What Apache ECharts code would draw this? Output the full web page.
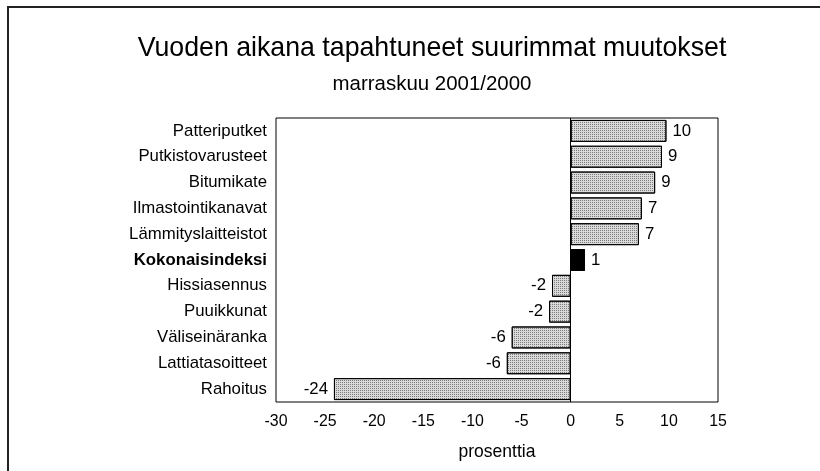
<!DOCTYPE html>
<html>
<head>
<meta charset="utf-8">
<script src="https://cdn.jsdelivr.net/npm/echarts@6/dist/echarts.min.js"></script>
<style>html,body{margin:0;padding:0;background:#fff}#c{width:820px;height:471px}</style>
</head>
<body>
<div id="c"></div>
<script>
const categories = ['Patteriputket','Putkistovarusteet','Bitumikate','Ilmastointikanavat','Lämmityslaitteistot','Kokonaisindeksi','Hissiasennus','Puuikkunat','Väliseinäranka','Lattiatasoitteet','Rahoitus'];
const values = [9.75, 9.3, 8.6, 7.25, 6.95, 1.45, -1.9, -2.2, -6.0, -6.5, -24.1];
const valueLabels = ['10','9','9','7','7','1','-2','-2','-6','-6','-24'];
const highlighted = 'Kokonaisindeksi';
const xMin = -30, xMax = 15, xStep = 5;
const titleText = 'Vuoden aikana tapahtuneet suurimmat muutokset';
const subtitleText = 'marraskuu 2001/2000';
const axisName = 'prosenttia';

// choose a narrow sans if installed, else regular
const cv = document.createElement('canvas').getContext('2d');
function w(txt, fam, size, weight) { cv.font = (weight || 'normal') + ' ' + size + 'px ' + fam; return cv.measureText(txt).width; }
function has(f) { return w('Lämmityslaitteistot 2001', '"' + f + '", monospace', 40) !== w('Lämmityslaitteistot 2001', 'monospace', 40); }
let FONT = "'Liberation Sans', Arial, Helvetica, sans-serif";
for (const f of ['Liberation Sans Narrow', 'Arial Narrow', 'Helvetica Narrow']) {
  if (has(f)) { FONT = '"' + f + '", ' + FONT; break; }
}
function fit(txt, target, weight) { return +(target / w(txt, FONT, 100, weight) * 100).toFixed(2); }

const titleSize = Math.min(fit(titleText, 589), 34);
const subSize = Math.min(fit(subtitleText, 199), 26);
const catSize = Math.min(fit('Lämmityslaitteistot', 138), 22);
const tickSize = Math.min(fit('-15', 23), 21);
const nameSize = Math.min(fit(axisName, 77), 22);

const chart = echarts.init(document.getElementById('c'), null, {renderer: 'canvas'});

const dotDecal = {symbol: 'rect', symbolSize: 1, dashArrayX: [1, 1], dashArrayY: [1, 1], color: '#7a7a7a', rotation: 0};

const seriesData = values.map((v, i) => {
  const isHi = categories[i] === highlighted;
  return {
    value: v,
    itemStyle: isHi ? {color: '#000', decal: {symbol: 'rect', symbolSize: 1, dashArrayX: [1, 0], dashArrayY: [1, 0], color: '#000'}} : {},
    label: {position: v < 0 ? 'left' : 'right'}
  };
});

chart.setOption({
  animation: false,
  backgroundColor: '#fff',
  textStyle: {fontFamily: FONT},
  graphic: [{
    type: 'rect', shape: {x: 8, y: 7, width: 900, height: 600},
    style: {fill: 'none', stroke: '#222', lineWidth: 2}, silent: true, z: 100
  }],
  title: [{
    text: titleText, left: 427, top: 53 - 0.8465 * titleSize, textAlign: 'center',
    textStyle: {fontFamily: FONT, fontSize: titleSize, fontWeight: 'normal', color: '#000'}
  }, {
    text: subtitleText, left: 427, top: 86.5 - 0.8465 * subSize, textAlign: 'center',
    textStyle: {fontFamily: FONT, fontSize: subSize, fontWeight: 'normal', color: '#000'}
  }],
  grid: {left: 276, right: 102, top: 118, bottom: 69, show: true, borderColor: '#000', borderWidth: 1, backgroundColor: 'transparent'},
  xAxis: {
    type: 'value', min: xMin, max: xMax, interval: xStep,
    axisLine: {show: false}, axisTick: {show: false}, splitLine: {show: false},
    axisLabel: {color: '#000', fontSize: tickSize, fontFamily: FONT, margin: 422 - 402 - tickSize / 2},
    name: axisName, nameLocation: 'middle', nameGap: 458 - 0.8465 * nameSize - 402,
    nameTextStyle: {color: '#000', fontSize: nameSize, fontFamily: FONT}
  },
  yAxis: {
    type: 'category', data: categories, inverse: true,
    axisLine: {show: false}, axisTick: {show: false}, splitLine: {show: false},
    axisLabel: {
      color: '#000', fontSize: catSize, fontFamily: FONT, margin: 9,
      formatter: v => v === highlighted ? '{b|' + v + '}' : v,
      rich: {b: {fontWeight: 'bold', fontSize: catSize, fontFamily: FONT, color: '#000'}}
    }
  },
  series: [{
    type: 'bar', data: seriesData, barCategoryGap: '15%',
    itemStyle: {color: '#dadada', borderColor: '#000', borderWidth: 1, decal: dotDecal},
    label: {show: true, distance: 6, color: '#000', fontSize: catSize, fontFamily: FONT,
      formatter: p => valueLabels[p.dataIndex]},
    markLine: {
      silent: true, symbol: 'none', animation: false,
      label: {show: false},
      lineStyle: {color: '#000', width: 1, type: 'solid'},
      data: [{xAxis: 0}]
    }
  }]
});
</script>
</body>
</html>
